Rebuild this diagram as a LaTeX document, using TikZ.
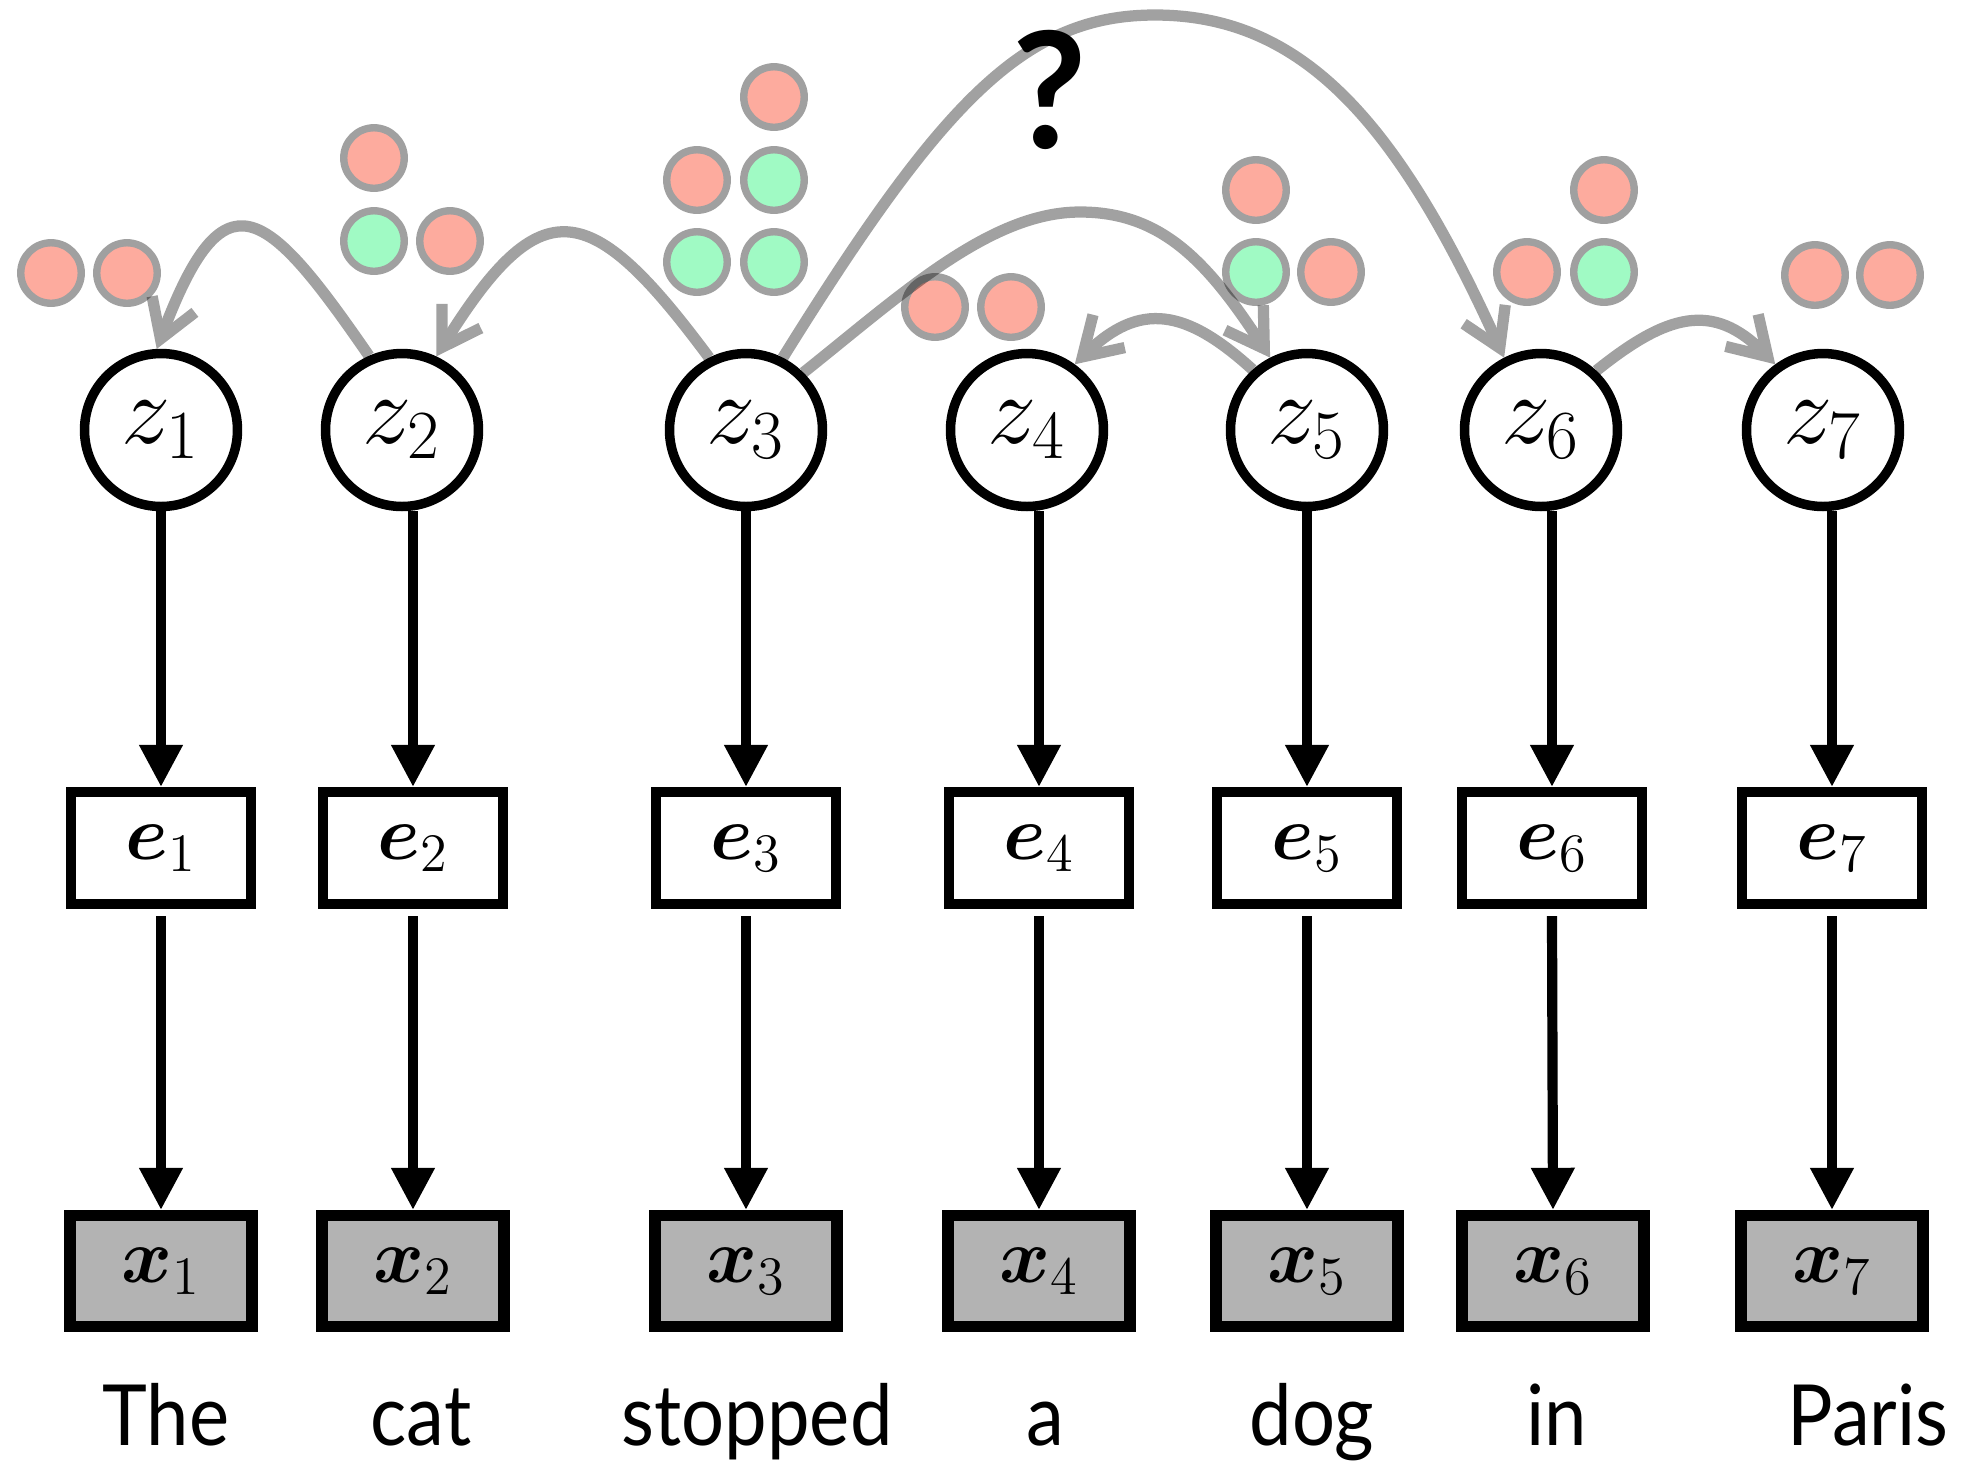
\RequirePackage{fix-cm}
\documentclass[tikz,border=0pt]{standalone}
\usepackage{bm}
\usepackage[no-math]{fontspec}
\newfontfamily\wordfont{Lato}[FakeStretch=0.9]
\newfontfamily\markfont{Lato Bold}
\usetikzlibrary{arrows.meta}

\definecolor{salmon}{HTML}{FDAB9E}
\definecolor{mint}{HTML}{A0FAC4}
\definecolor{ring}{HTML}{A0A0A0}
\definecolor{obs}{HTML}{B3B3B3}

\tikzset{
  zc/.style={circle, draw=black, line width=2.7pt, fill=white, minimum size=43.5pt, inner sep=0pt,
             font=\fontsize{28}{31}\selectfont},
  ebox/.style={rectangle, draw=black, line width=2.8pt, fill=white, minimum width=51.3pt,
               minimum height=31.9pt, inner sep=0pt, font=\fontsize{22}{25}\selectfont},
  xbox/.style={rectangle, draw=black, line width=3.2pt, fill=obs, minimum width=51.7pt,
               minimum height=31.5pt, inner sep=0pt, font=\fontsize{22}{25}\selectfont},
  word/.style={anchor=base, inner sep=0pt, font=\wordfont\fontsize{24}{27}\selectfont},
  blk/.style={line width=2.9pt, -{Triangle[length=12pt,width=11.7pt]}},
  dep/.style={line width=3.2pt, draw=black, -{Straight Barb[length=10.5pt,width=13pt,sharp]}},
  rdot/.style={draw=ring, line width=2.1pt, fill=salmon},
  gdot/.style={draw=ring, line width=2.1pt, fill=mint},
}

\begin{document}
\begin{tikzpicture}[x=0.01cm, y=-0.01cm]
\useasboundingbox (0,0) rectangle (1965,1462);

% candidate-set dots above each latent variable
\foreach \p in {(51,273),(127,273),
                (374,158),(450,241),
                (774,97),(697,180),
                (935,307),(1011,307),
                (1256,190),(1331,272),
                (1604,190),(1527,272),
                (1815,275),(1890,275)}
  \draw[rdot] \p circle[radius=8.6pt];
\foreach \p in {(374,241),(774,180),(697,262),(774,262),(1256,272),(1604,272)}
  \draw[gdot] \p circle[radius=8.6pt];

% latent variables
\node[zc] (z1) at (161,430) {$z_1$};
\node[zc] (z2) at (402,430) {$z_2$};
\node[zc] (z3) at (746,430) {$z_3$};
\node[zc] (z4) at (1027,430) {$z_4$};
\node[zc] (z5) at (1307,430) {$z_5$};
\node[zc] (z6) at (1541,430) {$z_6$};
\node[zc] (z7) at (1823,430) {$z_7$};

% embeddings
\node[ebox] (e1) at (161,848) {$\bm{e}_1$};
\node[ebox] (e2) at (413,848) {$\bm{e}_2$};
\node[ebox] (e3) at (746,848) {$\bm{e}_3$};
\node[ebox] (e4) at (1039,848) {$\bm{e}_4$};
\node[ebox] (e5) at (1307,848) {$\bm{e}_5$};
\node[ebox] (e6) at (1552,848) {$\bm{e}_6$};
\node[ebox] (e7) at (1832,848) {$\bm{e}_7$};

% observed words
\node[xbox] (x1) at (161,1271) {$\bm{x}_1$};
\node[xbox] (x2) at (413,1271) {$\bm{x}_2$};
\node[xbox] (x3) at (746,1271) {$\bm{x}_3$};
\node[xbox] (x4) at (1039,1271) {$\bm{x}_4$};
\node[xbox] (x5) at (1307,1271) {$\bm{x}_5$};
\node[xbox] (x6) at (1553,1271) {$\bm{x}_6$};
\node[xbox] (x7) at (1832,1271) {$\bm{x}_7$};

% sentence
\node[word] (w1) at (166,1445) {The};
\node[word] (w2) at (421,1445) {cat};
\node[word] (w3) at (757,1445) {stopped};
\node[word] (w4) at (1045,1445) {a};
\node[word] (w5) at (1312,1445) {dog};
\node[word] (w6) at (1557,1445) {in};
\node[word] (w7) at (1868,1445) {Paris};

% generative arrows
\foreach \i in {1,...,7}{
  \draw[blk] (z\i.south -| e\i.north) -- (e\i.north);
  \draw[blk] ([yshift=-2pt]e\i.south) -- (x\i.north);
}

% dependency arcs
\begin{scope}[transparency group, opacity=0.37]
  \draw[dep] (z2.114) .. controls (265,205) and (224,170) .. (z1.93);
  \draw[dep] (z3.117) .. controls (590,197) and (541,188) .. (z2.65);
  \draw[dep] (z3.63) .. controls (943,100) and (1025,15) .. (1155,15)
                     .. controls (1305,15) and (1399,126) .. (z6.117);
  \draw[dep] (z3.45) .. controls (902,294) and (990,212) .. (1080,212)
                     .. controls (1160,212) and (1206,259) .. (z5.117);
  \draw[dep] (z5.132) .. controls (1186,309) and (1140,301) .. (z4.54);
  \draw[dep] (z6.47) .. controls (1667,314) and (1713,301) .. (z7.126);
\end{scope}

\node[anchor=base, inner sep=0pt, font=\markfont\fontsize{46}{50}\selectfont] (q) at (1050,148) {?};
\end{tikzpicture}
\end{document}
